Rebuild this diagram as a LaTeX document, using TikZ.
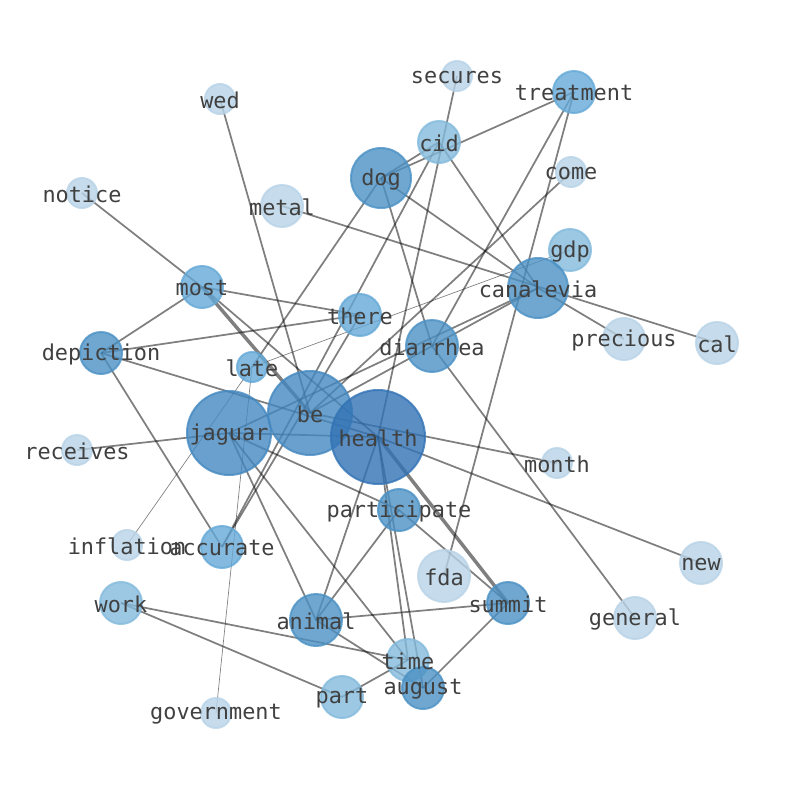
\documentclass[tikz,border=0pt]{standalone}
\usepackage{fontspec}
\newfontfamily\labelfont{DejaVu Sans Mono}
\definecolor{blueA}{HTML}{B8D3E7}
\definecolor{blueB}{HTML}{83BADC}
\definecolor{blueC}{HTML}{65A9D7}
\definecolor{blueD}{HTML}{4B91C4}
\definecolor{blueE}{HTML}{4488C0}
\definecolor{blueF}{HTML}{3273B5}
\definecolor{labelgray}{HTML}{404040}
\pgfdeclarelayer{edges}
\pgfdeclarelayer{labels}
\pgfsetlayers{edges,main,labels}
\begin{document}
\begin{tikzpicture}[x=0.75pt, y=-0.75pt,
    vtx/.style={circle, inner sep=0pt, minimum size=1.5*#1, line width=1.5pt,
      fill opacity=0.8, draw opacity=0.8},
    lvA/.style={fill=blueA, draw=blueA},
    lvB/.style={fill=blueB, draw=blueB},
    lvC/.style={fill=blueC, draw=blueC},
    lvD/.style={fill=blueD, draw=blueD},
    lvE/.style={fill=blueE, draw=blueE},
    lvF/.style={fill=blueF, draw=blueF},
    link/.style={draw=black, draw opacity=0.5, line width=1.3pt},
    faint/.style={line width=0.5pt},
    heavy/.style={line width=2.6pt},
    lbl/.style={text=labelgray, inner sep=0pt, yshift=-1pt,
      font=\labelfont\fontsize{16.4}{18}\selectfont}]
    \useasboundingbox (0,0) rectangle (794,790);
    % word nodes, size and shade from the graph
    \node[vtx=15, lvA] (secures)     at (457,76)  {};
    \node[vtx=21, lvC] (treatment)   at (574,92)  {};
    \node[vtx=15, lvA] (wed)         at (220,99)  {};
    \node[vtx=21, lvB] (cid)         at (439,142) {};
    \node[vtx=30, lvD] (dog)         at (381,178) {};
    \node[vtx=15, lvA] (come)        at (571,172) {};
    \node[vtx=15, lvA] (notice)      at (82,193)  {};
    \node[vtx=21, lvA] (metal)       at (282,206) {};
    \node[vtx=21, lvB] (gdp)         at (570,250) {};
    \node[vtx=30, lvD] (canalevia)   at (538,288) {};
    \node[vtx=21, lvC] (most)        at (202,287) {};
    \node[vtx=21, lvC] (there)       at (360,315) {};
    \node[vtx=21, lvD] (depiction)   at (101,353) {};
    \node[vtx=26, lvD] (diarrhea)    at (432,346) {};
    \node[vtx=21, lvA] (precious)    at (624,339) {};
    \node[vtx=21, lvA] (cal)         at (717,343) {};
    \node[vtx=15, lvC] (late)        at (252,367) {};
    \node[vtx=42, lvE] (be)          at (310,413) {};
    \node[vtx=42, lvE] (jaguar)      at (229,433) {};
    \node[vtx=47, lvF] (health)      at (378,437) {};
    \node[vtx=15, lvA] (receives)    at (77,450)  {};
    \node[vtx=15, lvA] (month)       at (557,463) {};
    \node[vtx=21, lvD] (participate) at (399,510) {};
    \node[vtx=15, lvA] (inflation)   at (127,545) {};
    \node[vtx=21, lvC] (accurate)    at (222,547) {};
    \node[vtx=21, lvA] (new)         at (701,563) {};
    \node[vtx=26, lvA] (fda)         at (444,576) {};
    \node[vtx=21, lvB] (work)        at (121,603) {};
    \node[vtx=21, lvD] (summit)      at (508,603) {};
    \node[vtx=21, lvA] (general)     at (635,618) {};
    \node[vtx=26, lvD] (animal)      at (316,620) {};
    \node[vtx=21, lvB] (time)        at (408,660) {};
    \node[vtx=21, lvD] (august)      at (423,688) {};
    \node[vtx=21, lvB] (part)        at (342,697) {};
    \node[vtx=15, lvA] (government)  at (216,713) {};
    \begin{pgfonlayer}{edges}
      \foreach \a/\b in {wed/be, notice/most, most/there, most/depiction,
          most/health, depiction/there, depiction/health, health/new,
          depiction/accurate, metal/cal, dog/cid, dog/treatment,
          dog/canalevia, canalevia/precious, dog/diarrhea, dog/late,
          cid/canalevia, secures/health, treatment/diarrhea, treatment/fda,
          come/be, be/canalevia, jaguar/canalevia, be/month,
          diarrhea/general, receives/jaguar, jaguar/health, jaguar/animal,
          jaguar/time, jaguar/participate, accurate/there, accurate/cid,
          animal/health, animal/participate, animal/summit, animal/august,
          participate/summit, health/time, health/august, august/summit,
          work/time, work/part, part/time}
        \draw[link] (\a.center) -- (\b.center);
      \foreach \a/\b in {late/gdp, late/inflation, late/government}
        \draw[link, faint] (\a.center) -- (\b.center);
      \foreach \a/\b in {most/be, health/summit}
        \draw[link, heavy] (\a.center) -- (\b.center);
    \end{pgfonlayer}
    \begin{pgfonlayer}{labels}
      \foreach \n in {secures, treatment, wed, cid, dog, come, notice, metal,
          gdp, canalevia, most, there, depiction, diarrhea, precious, cal,
          late, be, jaguar, health, receives, month, participate, inflation,
          accurate, new, fda, work, summit, general, animal, time, august,
          part, government}
        \node[lbl] at (\n) {\n};
    \end{pgfonlayer}
\end{tikzpicture}
\end{document}
